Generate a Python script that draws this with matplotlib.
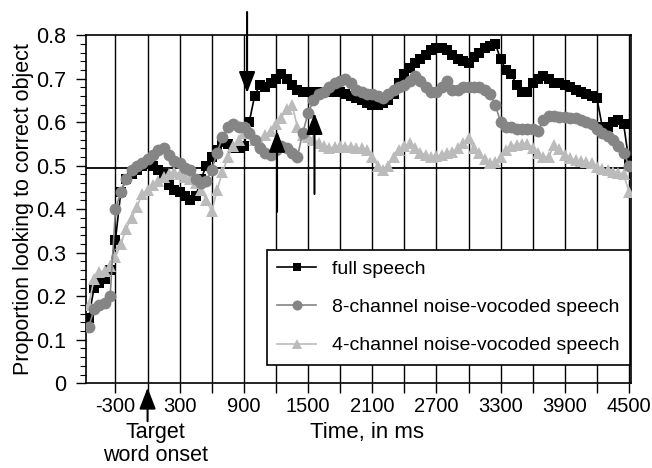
import numpy as np
import matplotlib
matplotlib.use("Agg")
import matplotlib.pyplot as plt
from matplotlib.ticker import FixedLocator, FixedFormatter, MultipleLocator

plt.rcParams['font.family'] = ['Liberation Sans', 'DejaVu Sans']

# time axis (ms), sampled every 50 ms
time_ms = np.arange(-550, 4501, 50)

full_speech = [
    0.15, 0.22, 0.23, 0.24, 0.26, 0.33, 0.44, 0.47, 0.48, 0.49,
    0.50, 0.505, 0.50, 0.49, 0.48, 0.455, 0.445, 0.44, 0.43, 0.42,
    0.43, 0.47, 0.50, 0.52, 0.535, 0.555, 0.55, 0.54, 0.54, 0.545,
    0.60, 0.66, 0.685, 0.68, 0.69, 0.70, 0.71, 0.70, 0.685, 0.675,
    0.67, 0.67, 0.67, 0.67, 0.67, 0.67, 0.67, 0.67, 0.665,
    0.66, 0.655, 0.65, 0.645, 0.64, 0.64, 0.645, 0.65, 0.665, 0.69,
    0.71, 0.725, 0.735, 0.745, 0.755, 0.765, 0.77, 0.77, 0.765, 0.755,
    0.745, 0.74, 0.735, 0.75, 0.76, 0.77, 0.775, 0.78, 0.745, 0.72,
    0.71, 0.685, 0.67, 0.67, 0.69, 0.70, 0.705, 0.70, 0.69, 0.69,
    0.685, 0.68, 0.675, 0.67, 0.665, 0.66, 0.655, 0.59, 0.59, 0.60,
    0.605, 0.595, 0.51,
]

vocoded8 = [
    0.13, 0.17, 0.18, 0.185, 0.20, 0.40, 0.44, 0.47, 0.49, 0.50,
    0.505, 0.515, 0.525, 0.535, 0.54, 0.525, 0.51, 0.505, 0.495, 0.49,
    0.47, 0.46, 0.465, 0.49, 0.53, 0.565, 0.59, 0.595, 0.59, 0.59,
    0.575, 0.56, 0.54, 0.53, 0.525, 0.535, 0.545, 0.54, 0.53, 0.52,
    0.575, 0.62, 0.65, 0.665, 0.67, 0.68, 0.69, 0.695, 0.70, 0.69,
    0.675, 0.67, 0.665, 0.665, 0.66, 0.655, 0.665, 0.675, 0.68, 0.685,
    0.695, 0.705, 0.695, 0.68, 0.67, 0.67, 0.68, 0.695, 0.675, 0.675,
    0.68, 0.68, 0.68, 0.68, 0.675, 0.665, 0.64, 0.60, 0.59, 0.59,
    0.585, 0.585, 0.585, 0.585, 0.58, 0.605, 0.615, 0.615, 0.612, 0.612,
    0.61, 0.61, 0.605, 0.60, 0.595, 0.585, 0.575, 0.568, 0.56, 0.545,
    0.53, 0.50,
]

vocoded4 = [
    0.18, 0.24, 0.255, 0.258, 0.27, 0.29, 0.32, 0.355, 0.38, 0.405,
    0.435, 0.445, 0.455, 0.465, 0.475, 0.48, 0.485, 0.48, 0.475, 0.47,
    0.46, 0.445, 0.42, 0.395, 0.445, 0.485, 0.52, 0.545, 0.56, 0.575,
    0.585, 0.56, 0.555, 0.57, 0.58, 0.595, 0.61, 0.63, 0.64, 0.59,
    0.57, 0.565, 0.56, 0.552, 0.545, 0.54, 0.542, 0.545, 0.544, 0.544,
    0.54, 0.54, 0.536, 0.52, 0.50, 0.49, 0.50, 0.52, 0.535, 0.545,
    0.552, 0.54, 0.53, 0.525, 0.52, 0.522, 0.525, 0.53, 0.532, 0.54,
    0.552, 0.563, 0.54, 0.528, 0.515, 0.505, 0.508, 0.52, 0.535, 0.545,
    0.548, 0.55, 0.55, 0.54, 0.53, 0.52, 0.52, 0.548, 0.538, 0.525,
    0.517, 0.512, 0.51, 0.508, 0.505, 0.498, 0.493, 0.489, 0.486, 0.484,
    0.48, 0.44,
]

series_labels = ["full speech", "8-channel noise-vocoded speech",
                 "4-channel noise-vocoded speech"]
x_tick_labels = ["-300", "300", "900", "1500", "2100", "2700", "3300", "3900", "4500"]
y_tick_values = [0, 0.1, 0.2, 0.3, 0.4, 0.5, 0.6, 0.7, 0.8]
y_tick_labels = ["0", "0.1", "0.2", "0.3", "0.4", "0.5", "0.6", "0.7", "0.8"]

n = len(time_ms)
assert len(full_speech) == n and len(vocoded8) == n and len(vocoded4) == n

fig = plt.figure(figsize=(6.52, 4.68), dpi=100)
ax = fig.add_axes([0.132, 0.181, 0.836, 0.744])

# vertical grid lines every 300 ms
for gx in range(-300, 4501, 300):
    ax.axvline(gx, color='black', lw=1.0, zorder=1)
ax.axhline(0.495, color='black', lw=1.3, zorder=1)

ax.plot(time_ms, vocoded4, color='#bbbbbb', marker='^', ms=8.5, lw=1.2,
        markeredgewidth=0, label=series_labels[2], zorder=3)
ax.plot(time_ms, vocoded8, color='#858585', marker='o', ms=8.5, lw=1.2,
        markeredgewidth=0, label=series_labels[1], zorder=4)
ax.plot(time_ms, full_speech, color='black', marker='s', ms=7.5, lw=1.2,
        markeredgewidth=0, label=series_labels[0], zorder=2)

ax.set_xlim(-575, 4520)
ax.set_ylim(0, 0.8)

xt = list(range(-300, 4501, 300))
ax.xaxis.set_major_locator(FixedLocator(xt))
ax.xaxis.set_major_formatter(FixedFormatter(
    [str(t) if str(t) in x_tick_labels else "" for t in xt]))
ax.yaxis.set_major_locator(FixedLocator(y_tick_values))
ax.yaxis.set_major_formatter(FixedFormatter(y_tick_labels))
ax.yaxis.set_minor_locator(MultipleLocator(0.02))
ax.tick_params(axis='x', which='major', direction='out', length=7, width=1,
               labelsize=14.5, pad=3)
ax.tick_params(axis='y', which='major', direction='out', length=7, width=1,
               labelsize=15.5, pad=7)
ax.tick_params(axis='y', which='minor', direction='out', length=4, width=0.8)
for s in ax.spines.values():
    s.set_linewidth(1.2)

ax.set_ylabel("Proportion looking to correct object", fontsize=15.5, labelpad=2)
ax.text(2050, -0.113, "Time, in ms", fontsize=16, ha='center', va='center')
ax.text(70, -0.113, "Target", fontsize=15.5, ha='center', va='center')
ax.text(70, -0.166, "word onset", fontsize=15.5, ha='center', va='center')

# handles in legend order
h, l = ax.get_legend_handles_labels()
order = [2, 1, 0]
leg = ax.legend([h[i] for i in order], [l[i] for i in order],
                loc='lower right', bbox_to_anchor=(0.998, 0.0525),
                borderaxespad=0, fontsize=14, frameon=True, fancybox=False,
                edgecolor='black', framealpha=1, handlelength=2.0,
                labelspacing=1.05, borderpad=0.55, handletextpad=0.8,
                markerscale=0.85)
leg.get_frame().set_linewidth(1.2)
leg.set_zorder(10)

arrow = dict(arrowstyle='-|>,head_length=0.65,head_width=0.25', color='black',
             lw=1.5, mutation_scale=20, shrinkA=0, shrinkB=0)
ax.annotate("", xy=(930, 0.667), xytext=(930, 0.853), arrowprops=arrow,
            annotation_clip=False, zorder=6)
ax.annotate("", xy=(1210, 0.58), xytext=(1210, 0.394), arrowprops=arrow,
            annotation_clip=False, zorder=6)
ax.annotate("", xy=(1560, 0.621), xytext=(1560, 0.435), arrowprops=arrow,
            annotation_clip=False, zorder=6)
ax.annotate("", xy=(0, -0.01), xytext=(0, -0.087), arrowprops=arrow,
            annotation_clip=False, zorder=6)

fig.savefig("out.png", dpi=100)
